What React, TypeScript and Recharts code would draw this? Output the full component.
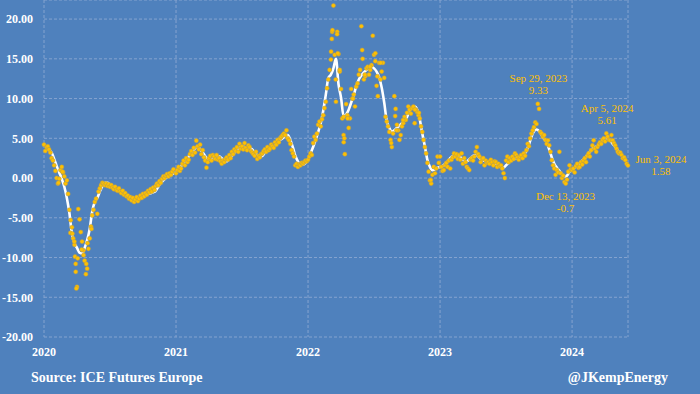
import { CartesianGrid, ComposedChart, Line, Scatter, XAxis, YAxis } from 'recharts'

const years = [2020, 2021, 2022, 2023, 2024]
const yTicks = [-20, -15, -10, -5, 0, 5, 10, 15, 20]

// spot readings, about two a week
const dots2020 = [
  4.2, 3.4, 3.9, 4.0, 3.6, 3.2, 2.5, 2.2, 1.6, 0.9, 0.0, -0.7, -0.1, 1.0,
  1.4, 0.7, 0.2, -0.7, -0.3, -2.0, -4.0, -5.3, -6.2, -7.6, -8.4, -11.8, -13.7, -3.9, -5.2,
  -6.8, -8.0, -9.1, -10.4, -12.1, -11.4, -8.9, -7.6, -6.1, -4.7, -4.0, -3.0, -2.6, -4.5, -1.7,
  -1.3, -0.9, -0.6, -0.7, -0.9, -0.7, -1.0, -0.8, -1.1, -0.9, -1.2, -1.4, -1.1, -1.5, -1.6,
  -1.3, -1.7, -1.9, -1.6, -2.1, -1.9, -2.3, -2.2, -2.6, -2.4, -2.8, -2.5, -3.0, -2.7, -2.4,
  -2.9, -2.6, -2.2, -2.5, -2.0, -2.3, -1.9, -2.1, -1.6, -1.8, -1.4, -1.7, -1.2, -1.5, -1.0,
  -0.7, -0.9, -0.4, -0.6, -0.1, 0.2, 0.0, 0.3, 0.5, 0.2, 0.6, 0.4, 0.8, 1.1,
]
const dots2021 = [
  0.6, 1.0, 1.4, 0.9, 1.2, 1.8, 2.2, 1.6, 2.5, 2.0, 2.3, 3.0, 3.4, 2.9, 3.8, 3.2, 4.7, 4.0,
  3.6, 4.2, 3.0, 3.5, 2.6, 2.2, 1.3, 2.0, 2.5, 2.8, 2.2, 2.9, 2.7, 2.4, 2.9, 2.3, 2.5, 2.1,
  1.8, 2.2, 2.0, 2.4, 2.6, 2.3, 2.9, 2.5, 3.3, 3.0, 3.6, 3.4, 3.9, 3.3, 4.3, 3.7, 4.0, 3.6,
  4.4, 3.8, 3.5, 4.1, 3.9, 3.4, 3.2, 3.0, 2.8, 3.3, 2.4, 2.8, 2.6, 3.0, 3.1, 3.4, 3.6, 3.3,
  3.9, 3.5, 3.7, 4.2, 4.0, 3.8, 4.5, 4.2, 4.8, 4.5, 5.0, 5.2, 5.4, 5.6, 5.4, 6.0, 5.0, 4.75,
  4.3, 3.5, 3.1, 2.7, 1.6, 1.8, 1.4, 1.7, 1.6, 1.9, 1.8, 2.0, 2.2, 2.1,
]
const dots2022 = [
  2.3, 2.7, 3.1, 2.9, 4.4, 5.2, 4.8, 5.6, 6.7, 7.1, 6.5, 7.4, 7.9, 8.8, 9.6, 11.3, 12.4, 13.6,
  14.9, 18.4, 21.7, 15.5, 9.6, 18.4, 15.6, 13.4, 11.2, 7.5, 5.4, 3.0, 9.3, 7.9, 6.3, 7.5,
  11.2, 10.0, 10.5, 9.0, 11.5, 11.9, 13.0, 13.6, 19.1, 15.0, 12.4, 12.8, 13.8, 14.0, 13.0,
  13.6, 14.2, 17.9, 15.5, 14.7, 11.6, 10.3, 14.5, 12.4, 13.4, 14.5, 12.6, 7.7, 7.1, 6.5,
  5.8, 4.8, 3.9, 5.6, 10.3, 8.7, 6.7, 6.0, 4.8, 5.4, 6.5, 6.9, 7.7, 7.3, 8.2, 9.0, 8.6, 8.1,
  8.8, 9.0, 6.9, 8.6, 8.3, 7.9, 7.5, 6.5, 5.8, 4.8, 3.9, 3.1, 1.9, 0.8, -0.3, -0.7, 0.4, 1.4,
  0.6, 1.2, 2.7, 1.9,
]
const dots2023 = [
  2.7, 1.4, 0.9, 1.0, 1.6, 1.9, 1.4, 2.2, 1.2, 2.3, 2.6, 3.1, 2.7, 3.0, 2.4, 2.9, 2.3, 3.1,
  1.8, 2.5, 2.0, 1.4, 1.2, 1.0, 2.3, 2.5, 2.2, 2.7, 3.3, 3.9, 3.0, 2.7, 2.0, 2.4, 2.5, 1.6,
  2.2, 1.9, 2.0, 1.8, 2.3, 2.0, 1.6, 2.1, 2.0, 1.4, 1.8, 1.5, 1.6, 1.2, 0.6, 0.0, 2.2, 2.7,
  2.0, 2.5, 2.2, 2.7, 2.4, 3.1, 2.9, 2.6, 2.3, 2.7, 2.9, 2.5, 3.1, 2.8, 3.5, 4.3, 4.0, 5.0,
  5.6, 6.0, 6.4, 7.0, 6.8, 9.33, 8.7, 5.8, 5.6, 5.2, 5.4, 4.8, 4.3, 4.75, 4.1, 3.3, 2.25,
  1.6, 1.2, 0.4, 1.0, 0.7, 3.3, 0.6, 0.0, 0.3, -0.5, -0.7, -0.2, 0.8, 1.6, 1.1,
]
const dots2024 = [
  1.0, 1.2, 0.7, 1.5, 1.8, 1.3, 1.4, 2.0, 1.7, 2.2, 2.5, 2.0, 2.8, 3.1, 2.7, 3.5, 4.1, 4.75,
  3.7, 3.3, 3.9, 4.2, 4.5, 4.3, 4.8, 5.0, 4.6, 5.61, 5.2, 4.8, 4.75, 5.4, 4.75, 4.4, 4.1,
  3.7, 3.3, 3.1, 3.2, 2.9, 2.5, 2.6, 2.25, 1.8, 1.58,
]

// extra readings in the busy stretches (2020 crash, 2022 spike)
const extraDots: [number, number][] = [
  [2020.245, -13.9], [2020.235, -9.9], [2020.24, -10.8], [2020.255, -10.1], [2020.32, -10.8],
  [2020.3, -9.7], [2020.2, -6.9], [2020.215, -7.0], [2020.23, -8.0], [2020.285, -9.0],
  [2020.11, -0.6], [2020.14, 0.8], [2020.33, -8.2], [2020.36, -6.4],
  [2022.175, 15.9], [2022.18, 17.5], [2022.185, 18.6], [2022.22, 18.1], [2022.225, 15.7],
  [2022.24, 13.6], [2022.21, 12.4], [2022.27, 7.7], [2022.275, 5.0], [2022.27, 4.5],
  [2022.3, 7.5], [2022.34, 10.0], [2022.41, 16.1], [2022.43, 13.0], [2022.47, 14.0],
  [2022.51, 15.7], [2022.55, 14.5], [2022.525, 12.8], [2022.66, 7.8], [2022.67, 6.0],
  [2022.63, 4.4], [2022.72, 7.3], [2022.81, 8.6], [2022.93, -0.25], [2022.84, 8.2],
]

// weekly moving average (white line)
const avg2020 = [
  null, 3.8, 3.5, 3.2, 2.4, 1.5, 0.7, -0.1, -1.1, -2.5, -4.4, -7.0, -8.2, -8.8, -9.4, -9.5,
  -8.8, -7.8, -6.4, -4.2, -3.0, -2.5, -1.7, -1.0, -0.6, -0.6, -0.8, -1.0, -1.3, -1.5, -1.7,
  -1.9, -2.1, -2.3, -2.4, -2.6, -2.8, -2.7, -2.5, -2.3, -2.2, -2.0, -1.9, -1.8, -1.6, -1.1,
  -0.6, -0.3, 0.0, 0.2, 0.4, 0.6,
]
const avg2021 = [
  0.8, 1.1, 1.5, 1.9, 2.2, 2.7, 3.1, 3.5, 3.9, 3.8, 3.4, 3.0, 2.5, 2.3, 2.4, 2.5, 2.6, 2.7,
  2.5, 2.2, 2.1, 2.4, 2.8, 3.2, 3.5, 3.8, 4.0, 3.9, 3.8, 3.8, 3.6, 3.2, 2.9, 2.7, 2.8, 3.2,
  3.5, 3.8, 3.9, 4.1, 4.4, 4.8, 5.0, 5.3, 5.4, 4.8, 3.9, 2.8, 2.1, 1.7, 1.7, 1.9,
]
const avg2022 = [
  2.3, 3.1, 3.9, 4.8, 5.8, 6.9, 8.5, 10.5, 12.6, 13.0, 13.8, 15.0, 11.8, 10.1, 7.8, 8.0, 8.6,
  9.5, 10.4, 11.6, 12.4, 12.9, 13.3, 13.6, 13.8, 14.0, 13.8, 13.4, 12.7, 11.4, 9.5, 7.2, 6.3,
  5.8, 6.0, 6.3, 6.6, 6.9, 7.2, 7.7, 8.5, 8.8, 9.0, 8.6, 7.4, 5.6, 4.0, 2.3, 1.4, 1.0, 1.1, 1.3,
]
const avg2023 = [
  1.4, 1.5, 1.8, 2.1, 2.5, 2.8, 2.9, 2.8, 2.6, 2.3, 2.1, 2.2, 2.5, 2.8, 2.9, 2.7, 2.4, 2.2,
  2.1, 2.0, 2.0, 1.9, 1.8, 1.6, 1.4, 1.3, 1.6, 1.9, 2.2, 2.4, 2.5, 2.6, 2.8, 3.0, 3.4, 4.2,
  5.2, 5.9, 6.1, 5.9, 5.4, 4.9, 4.5, 3.6, 2.6, 1.8, 1.3, 0.9, 0.5, 0.2, 0.3, 0.8,
]
const avg2024 = [
  1.1, 1.3, 1.6, 1.9, 2.2, 2.5, 2.9, 3.3, 3.7, 3.9, 4.0, 4.3, 4.7, 5.0, 5.0, 4.7, 4.3, 3.9,
  3.5, 3.1, 2.7, 2.3,
]

const noteDates = [2023.745, 2023.95, 2024.262, 2024.423]
const noteValues = [9.33, -0.7, 5.61, 1.58]
const noteLabels = ['Sep 29, 2023', 'Dec 13, 2023', 'Apr 5, 2024', 'Jun 3, 2024']

const dotsByYear = [dots2020, dots2021, dots2022, dots2023, dots2024]
const avgByYear = [avg2020, avg2021, avg2022, avg2023, avg2024]

const dotData = years
  .flatMap((yr, i) => dotsByYear[i].map((v, k) => ({ t: yr + k / 104, v })))
  .concat(extraDots.map(([t, v]) => ({ t, v })))
const avgData = years.flatMap((yr, i) => avgByYear[i].map((v, k) => ({ t: yr + k / 52, v })))
const noteData = noteDates.map((t, i) => ({ t, v: noteValues[i], label: noteLabels[i] }))

const BG = '#4f81bd'
const GOLD = '#ffc000'
const SERIF = '"Liberation Serif", "Times New Roman", serif'

// [dx, dy of date line, dy of value line]
const notePlace = [
  [0, -22, -10],
  [0, 16, 28],
  [0.5, -21, -9],
  [33, -2, 10],
]

const Dot = (props: any) => (
  <circle cx={props.cx} cy={props.cy} r={2.1} fill={GOLD} stroke="#b09a55" strokeWidth={0.5} />
)

const Note = (props: any) => {
  const i = noteLabels.indexOf(props.payload.label)
  const [dx, dy1, dy2] = notePlace[i]
  return (
    <g fontFamily={SERIF} fontSize={11} fill={GOLD} textAnchor="middle">
      <text x={props.cx + dx} y={props.cy + dy1}>{props.payload.label}</text>
      <text x={props.cx + dx} y={props.cy + dy2}>{String(props.payload.v)}</text>
    </g>
  )
}

const tickStyle = { fill: '#fff', fontSize: 12, fontWeight: 'bold', fontFamily: SERIF }

export default function App() {
  return (
    <div style={{ position: 'absolute', top: 0, left: 0, width: 700, height: 394, background: BG }}>
      <ComposedChart width={700} height={394} margin={{ top: 0, right: 72, bottom: 0, left: 0 }}>
        <CartesianGrid stroke="#85a3cf" strokeDasharray="3 2" />
        <XAxis
          dataKey="t"
          type="number"
          domain={[2020, 2024.4235]}
          ticks={years}
          height={57}
          axisLine={false}
          tickLine={false}
          tickSize={0}
          tickMargin={10}
          tick={tickStyle}
        />
        <YAxis
          dataKey="v"
          type="number"
          domain={[-20, 22.4]}
          ticks={yTicks}
          width={44}
          axisLine={false}
          tickLine={false}
          tickSize={0}
          tickMargin={11}
          tick={tickStyle}
          tickFormatter={(v: number) => v.toFixed(2)}
        />
        <Line
          data={avgData}
          dataKey="v"
          type="monotone"
          stroke="#fff"
          strokeWidth={2.6}
          dot={false}
          activeDot={false}
          isAnimationActive={false}
        />
        <Scatter data={dotData} dataKey="v" shape={Dot} isAnimationActive={false} />
        <Scatter data={noteData} dataKey="v" shape={Note} isAnimationActive={false} />
      </ComposedChart>
      <div
        style={{
          position: 'absolute', left: 31, top: 370, color: '#fff', fontFamily: SERIF,
          fontWeight: 'bold', fontSize: 14, whiteSpace: 'nowrap',
        }}
      >
        Source: ICE Futures Europe
      </div>
      <div
        style={{
          position: 'absolute', right: 32, top: 370, color: '#fff', fontFamily: SERIF,
          fontWeight: 'bold', fontSize: 14, whiteSpace: 'nowrap',
        }}
      >
        @JKempEnergy
      </div>
    </div>
  )
}
